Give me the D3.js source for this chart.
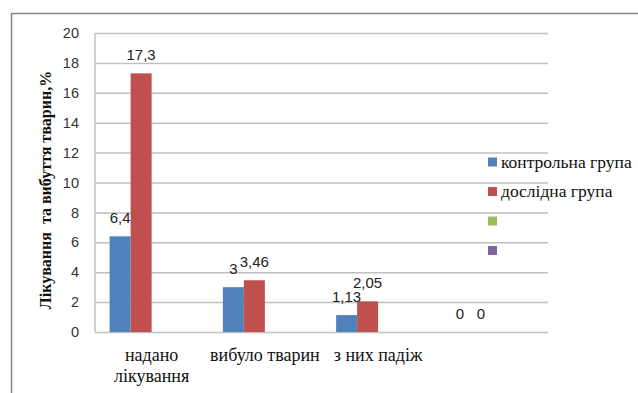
<!DOCTYPE html>
<html>
<head>
<meta charset="utf-8">
<script src="https://cdn.jsdelivr.net/npm/d3@7"></script>
<style>
  html, body { margin: 0; padding: 0; background: #fff; }
  svg { display: block; }
</style>
</head>
<body>
<svg id="chart" width="638" height="393"></svg>
<script>
const categories = [["надано", "лікування"], ["вибуло тварин"], ["з них падіж"], [""]];
const seriesNames = ["контрольна група", "дослідна група", "", ""];
const seriesColors = ["#4F81BD", "#C0504D", "#9BBB59", "#8064A2"];
const controlValues = [6.4, 3, 1.13, 0];
const experimentValues = [17.3, 3.46, 2.05, 0];
const series3Values = [null, null, null, null];
const series4Values = [null, null, null, null];
const yTicks = [0, 2, 4, 6, 8, 10, 12, 14, 16, 18, 20];
const yTitle = "Лікування  та вибуття тварин,%";

const allSeries = [controlValues, experimentValues, series3Values, series4Values];
const SERIF = "'Liberation Serif', 'Times New Roman', serif";
const SANS = "'Liberation Sans', Arial, sans-serif";

const svg = d3.select("#chart");
const W = 638, H = 393;

// outer border (cropped on right and bottom)
svg.append("rect")
  .attr("x", 11.5).attr("y", 13.5)
  .attr("width", W + 10).attr("height", H + 10)
  .attr("fill", "none").attr("stroke", "#868686").attr("stroke-width", 1.5);

const plot = { left: 95, right: 548, top: 33, bottom: 332 };

const x0 = d3.scaleBand()
  .domain(d3.range(categories.length))
  .range([plot.left, plot.right])
  .paddingInner(0).paddingOuter(0);

const groupW = x0.bandwidth() * 0.742;
const x1 = d3.scaleBand()
  .domain(d3.range(allSeries.length))
  .range([(x0.bandwidth() - groupW) / 2, (x0.bandwidth() + groupW) / 2])
  .padding(0);

const y = d3.scaleLinear().domain([0, 20]).range([plot.bottom, plot.top]);

// gridlines
const grid = svg.append("g")
  .attr("transform", `translate(${plot.left},0)`)
  .call(d3.axisLeft(y).tickValues(yTicks).tickSize(-(plot.right - plot.left)).tickFormat(""));
grid.select(".domain").remove();
grid.selectAll("line").attr("stroke", "#c0c0c0").attr("stroke-width", 1.5);

// left axis line
svg.append("line")
  .attr("x1", plot.left).attr("x2", plot.left)
  .attr("y1", plot.top).attr("y2", plot.bottom)
  .attr("stroke", "#c0c0c0").attr("stroke-width", 1.5);

// y tick labels
const yAxis = svg.append("g")
  .attr("transform", `translate(${plot.left},0)`)
  .call(d3.axisLeft(y).tickValues(yTicks).tickSize(0).tickPadding(16).tickFormat(d3.format("d")));
yAxis.select(".domain").remove();
yAxis.selectAll("text")
  .style("font-family", SANS)
  .style("font-size", "14.5px")
  .attr("fill", "#333");

// bars
const groups = svg.append("g").selectAll("g")
  .data(categories.map((c, i) => i))
  .join("g")
  .attr("transform", i => `translate(${x0(i)},0)`);

groups.each(function(ci) {
  const g = d3.select(this);
  allSeries.forEach((vals, si) => {
    const v = vals[ci];
    if (v === null || v === undefined) return;
    g.append("rect")
      .attr("x", x1(si))
      .attr("y", y(v))
      .attr("width", x1.bandwidth())
      .attr("height", y(0) - y(v))
      .attr("fill", seriesColors[si]);
  });
});

// data labels
const fmt = v => String(v).replace(".", ",");
groups.each(function(ci) {
  const g = d3.select(this);
  allSeries.forEach((vals, si) => {
    const v = vals[ci];
    if (v === null || v === undefined) return;
    g.append("text")
      .attr("x", x1(si) + x1.bandwidth() / 2)
      .attr("y", y(v) - 13)
      .attr("text-anchor", "middle")
      .style("font-family", SANS)
      .style("font-size", "15px")
      .attr("fill", "#222")
      .text(fmt(v));
  });
});

// category labels
categories.forEach((lines, i) => {
  const t = svg.append("text")
    .attr("x", x0(i) + x0.bandwidth() / 2)
    .attr("y", 361)
    .attr("text-anchor", "middle")
    .style("font-family", SERIF)
    .style("font-size", "18px")
    .attr("fill", "#111");
  lines.forEach((ln, k) => {
    t.append("tspan")
      .attr("x", x0(i) + x0.bandwidth() / 2)
      .attr("dy", k === 0 ? 0 : 21)
      .text(ln);
  });
});

// y title
svg.append("text")
  .attr("transform", `translate(51,190) rotate(-90)`)
  .attr("text-anchor", "middle")
  .style("font-family", SERIF)
  .style("font-weight", "bold")
  .style("font-size", "16px")
  .style("white-space", "pre")
  .attr("fill", "#111")
  .text(yTitle);

// legend
const legend = svg.append("g").attr("transform", "translate(488,162)");
seriesNames.forEach((name, i) => {
  const gy = i * 29.5;
  legend.append("rect")
    .attr("x", 0).attr("y", gy - 4.5)
    .attr("width", 9).attr("height", 9)
    .attr("fill", seriesColors[i]);
  legend.append("text")
    .attr("x", 13).attr("y", gy + 5.5)
    .style("font-family", SERIF)
    .style("font-size", "17.5px")
    .attr("fill", "#111")
    .text(name);
});
</script>
</body>
</html>
